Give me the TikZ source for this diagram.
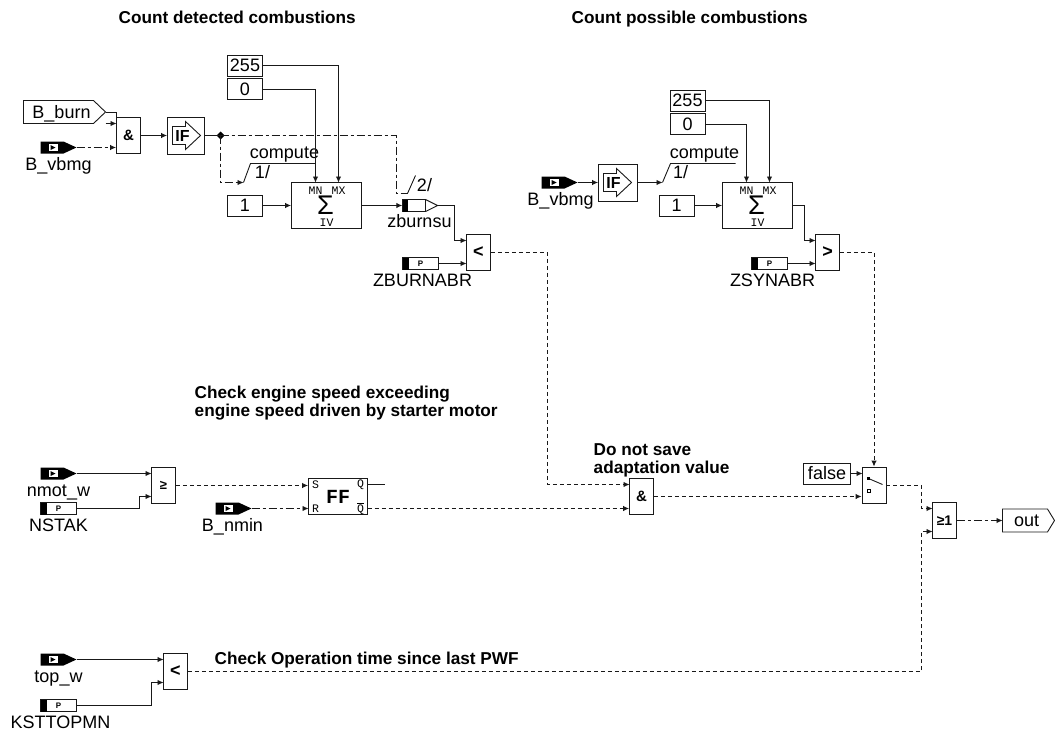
\documentclass[tikz,border=0pt]{standalone}
\usepackage{fontspec}
\setmainfont{Liberation Sans}
\newfontfamily\glyphmono{Liberation Mono}
\usetikzlibrary{arrows.meta}
\tikzset{
 ln/.style={line width=0.9pt,draw=black!90},
 arr/.style={ln,-{Latex[length=6pt,width=5.5pt]}},
 bl/.style={arr,dash pattern=on 4pt off 3pt},
 dd/.style={arr,dash pattern=on 8pt off 3pt on 3pt off 3pt},
 dline/.style={ln,dash pattern=on 8pt off 3pt on 3pt off 3pt},
 gbox/.style={ln,rectangle,inner sep=0pt,minimum width=24pt,minimum height=36pt,font=\fontsize{15}{15}\selectfont\bfseries},
 cbox/.style={ln,rectangle,inner sep=0pt,minimum width=35pt,minimum height=21pt,font=\fontsize{18}{18}\selectfont},
 lab/.style={inner sep=0pt,anchor=base,font=\fontsize{18}{18}\selectfont},
 ttl/.style={inner sep=0pt,anchor=base west,font=\fontsize{17.2}{18}\selectfont\bfseries,align=left},
 port/.style={rectangle,inner sep=0pt,minimum width=36pt,minimum height=12pt},
 mono/.style={inner sep=0pt,font=\fontsize{11.5}{11.5}\selectfont\glyphmono},
}
\newcommand\gatebox[4]{%
 \node[gbox,draw] (#1) at (#2+12,#3+18) {#4};
 \coordinate (#1a) at (#2,#3+6);
 \coordinate (#1b) at (#2,#3+29);}
\newcommand\inport[5]{% name,left,cy,labelcx,label
 \node[port] (#1) at (#2+18,#3) {};
 \fill[black] (#2,#3-6) rectangle (#2+23,#3+6) (#2+23,#3-6) -- (#2+36,#3) -- (#2+23,#3+6) -- cycle;
 \fill[white] (#2+8,#3-3.5) rectangle (#2+17,#3+3.5);
 \fill[black] (#2+10,#3-2.5) -- (#2+15,#3) -- (#2+10,#3+2.5) -- cycle;
 \node[lab] (#1l) at (#4,#3+23) {#5};}
\newcommand\parport[5]{%
 \node[port,draw=black!90,line width=0.9pt] (#1) at (#2+18,#3) {};
 \fill[black] (#2,#3-6) rectangle (#2+6,#3+6);
 \node[inner sep=0pt,font=\fontsize{8}{8}\selectfont\bfseries] at (#2+18,#3) {P};
 \node[lab] (#1l) at (#4,#3+23) {#5};}
\newcommand\ifbox[4]{% name,left,right,cy
 \node[ln,draw,rectangle,inner sep=0pt,minimum width=#3pt-#2pt,minimum height=37pt] (#1) at ({(#2+#3)/2},#4) {};
 \draw[ln] (#2+5,#4-9) -- (#2+18,#4-9) -- (#2+18,#4-14) -- (#2+33,#4) -- (#2+18,#4+14) -- (#2+18,#4+9) -- (#2+5,#4+9) -- cycle;
 \node[inner sep=0pt,font=\fontsize{16}{16}\selectfont\bfseries] at (#2+15,#4) {IF};}
\newcommand\sumbox[3]{% name,left,top
 \node[ln,draw,rectangle,inner sep=0pt,minimum width=70pt,minimum height=46pt] (#1) at (#2+35,#3+23) {};
 \node[mono] at (#2+24,#3+8) {MN};
 \node[mono] at (#2+47,#3+8) {MX};
 \node[mono] at (#2+35,#3+40.5) {IV};
 \node[inner sep=0pt,font=\fontsize{27}{27}\selectfont] at (#2+34,#3+23) {Σ};}
\begin{document}
\begin{tikzpicture}[x=1pt,y=-1pt]
\useasboundingbox (0,0) rectangle (1055,736);
\begin{scope}[shift={(0.5,0.5)}]
% titles
\node[ttl] (t1) at (118,23) {Count detected combustions};
\node[ttl] (t2) at (571,23) {Count possible combustions};
\node[ttl] (t3a) at (194,398) {Check engine speed exceeding};
\node[ttl] (t3b) at (194,416) {engine speed driven by starter motor};
\node[ttl] (t4a) at (593,454.5) {Do not save};
\node[ttl] (t4b) at (593,472.5) {adaptation value};
\node[ttl] (t5) at (214,664) {Check Operation time since last PWF};
% ---- top left
\draw[ln,fill=white] (23,100) -- (93,100) -- (105,111.5) -- (93,123) -- (23,123) -- cycle;
\node[lab] (bburn) at (61,118) {B\_burn};
\coordinate (bburno) at (105,111.5);
\inport{vb}{40}{147}{58}{B\_vbmg}
\gatebox{andA}{116}{117}{\&}
\ifbox{ifA}{167}{204}{135}
\node[cbox,draw] (c255) at (244.5,65) {255};
\node[cbox,draw] (c0) at (244.5,88.5) {0};
\node[cbox,draw] (c1) at (244.5,205) {1};
\sumbox{sumA}{291}{182}
\coordinate (mnA) at (315,182);
\coordinate (mxA) at (338,182);
\draw[ln] (bburno) -| (andA.north west);
\coordinate (stubA) at (105,123);
\draw[arr] (stubA) -- (andAa);
\draw[dd] (vb.east) -- (vb.east -| andA.west);
\draw[arr] (andA.east) -- (ifA.west);
\coordinate (jn) at (220,135);
\fill[black] (216,135) -- (220,131) -- (224,135) -- (220,139) -- cycle;
\draw[ln] (ifA.east) -- (jn);
\coordinate (cmpA) at (243,182);
\coordinate (slA) at (250,163);
\coordinate (slAe) at (315,163);
\draw[dd] (jn) |- (cmpA);
\draw[ln] (cmpA) -- (slA) -- (slAe);
\node[lab] (lcA) at (284,158) {compute};
\node[lab] (l1A) at (262,178) {1/};
\draw[arr] (c255.east) -| (mxA);
\draw[arr] (c0.east) -| (mnA);
\draw[arr] (c1.east) -- (sumA.west);
% zburnsu
\draw[ln,fill=white] (402,199) -- (425,199) -- (437,205) -- (425,211) -- (402,211) -- cycle;
\fill[black] (402,199) rectangle (407,211);
\draw[ln] (425,199) -- (425,211);
\node[rectangle,inner sep=0pt,minimum width=35pt,minimum height=12pt] (zb) at (419.5,205) {};
\node[lab] (zbl) at (419,227) {zburnsu};
\draw[arr] (sumA.east) -- (zb.west);
\coordinate (tA) at (407,193);
\coordinate (sl2) at (415,175);
\coordinate (jr) at (396,135);
\draw[dline] (jn) -- (jr) -- (396,193) -- (tA);
\draw[ln] (tA) -- (sl2);
\node[lab] (l2) at (424,191) {2/};
\gatebox{ltA}{466}{234}{\fontsize{18}{18}\selectfont <}
\coordinate (ba) at (454,205);
\draw[arr] (zb.east) -- (ba) |- (ltAa);
\parport{zab}{402}{263}{422}{ZBURNABR}
\draw[arr] (zab.east) -- (ltAb);
% ---- top right
\inport{vb2}{541}{182}{560}{B\_vbmg}
\ifbox{ifB}{598}{637}{182}
\draw[arr] (vb2.east) -- (ifB.west);
\node[cbox,draw] (d255) at (687,100) {255};
\node[cbox,draw] (d0) at (687,123.5) {0};
\node[cbox,draw] (d1) at (676,205) {1};
\sumbox{sumB}{722}{182}
\coordinate (mnB) at (746,182);
\coordinate (mxB) at (769,182);
\draw[arr] (d255.east) -| (mxB);
\draw[arr] (d0.east) -| (mnB);
\draw[arr] (d1.east) -- (sumB.west);
\coordinate (cmpB) at (662,182);
\coordinate (slB) at (670,163);
\coordinate (slBe) at (735,163);
\draw[arr] (ifB.east) -- (cmpB);
\draw[ln] (cmpB) -- (slB) -- (slBe);
\node[lab] (lcB) at (704,158) {compute};
\node[lab] (l1B) at (680,178) {1/};
\gatebox{gtB}{815}{234}{\fontsize{18}{18}\selectfont >}
\coordinate (bb) at (804,205);
\draw[arr] (sumB.east) -- (bb) |- (gtBa);
\parport{zsy}{751}{263}{772}{ZSYNABR}
\draw[arr] (zsy.east) -- (gtBb);
% ---- middle
\inport{nm}{40}{473}{58}{nmot\_w}
\parport{ns}{40}{508}{58}{NSTAK}
\gatebox{geA}{151}{467}{\fontsize{13}{13}\selectfont ≥}
\draw[arr] (nm.east) -- (geAa);
\coordinate (be) at (139,508);
\draw[arr] (ns.east) -- (be) |- (geAb);
\node[ln,draw,rectangle,inner sep=0pt,minimum width=59pt,minimum height=36pt,font=\fontsize{20}{20}\selectfont\bfseries\glyphmono] (ff) at (337.5,496) {FF};
\coordinate (ffr) at (308,508);
\coordinate (ffq) at (367,484);
\coordinate (ffn) at (367,508);
\coordinate (ffqe) at (384,484);
\node[mono] at (315,484) {S};
\node[mono] at (315,508) {R};
\node[mono] at (360,484) {Q};
\node[mono] at (360,508) {$\overline{\mbox{Q}}$};
\draw[bl] (geA.east) -- (geA.east -| ff.west);
\inport{bn}{215}{508}{232}{B\_nmin}
\draw[dd] (bn.east) -- (ffr);
\draw[ln] (ffq) -- (ffqe);
\gatebox{andB}{629}{478}{\&}
\draw[bl] (ffn) -- (ffn -| andB.west);
\coordinate (j1) at (547,484);
\draw[bl] (ltA.east) -| (j1) -- (andBa);
\node[ln,draw,rectangle,inner sep=0pt,minimum width=24pt,minimum height=36pt] (sw) at (873.5,484.5) {};
\coordinate (swa) at (862,473);
\draw[bl] (andB.east) -- (andB.east -| sw.west);
\draw[ln] (868,478) -- (882,484);
\fill[black] (866.5,476.5) rectangle (869.5,479.5);
\draw[line width=.8pt] (867,489) rectangle (870,492);
\node[cbox,draw,minimum width=47pt] (fal) at (826.5,473) {false};
\draw[arr] (fal.east) -- (swa);
\draw[bl] (gtB.east) -| (sw.north);
\gatebox{orA}{932}{502}{\fontsize{14}{14}\selectfont ≥1}
\coordinate (k1) at (921,484.5);
\draw[bl] (sw.east) -- (k1) |- (orAa);
\draw[ln,fill=white] (1002,508.5) -- (1047,508.5) -- (1054,520) -- (1047,531.5) -- (1002,531.5) -- cycle;
\node[lab] (outl) at (1026,526) {out};
\coordinate (outw) at (1002,520);
\draw[dd] (orA.east) -- (outw);
% ---- bottom
\inport{tw}{40}{659}{58}{top\_w}
\parport{ks}{40}{705}{60}{KSTTOPMN}
\gatebox{ltB}{163}{653}{\fontsize{18}{18}\selectfont <}
\draw[arr] (tw.east) -- (ltBa);
\coordinate (bk) at (151,705);
\draw[arr] (ks.east) -- (bk) |- (ltBb);
\coordinate (k2) at (921,671);
\draw[bl] (ltB.east) -- (k2) |- (orAb);
\end{scope}
\end{tikzpicture}
\end{document}
